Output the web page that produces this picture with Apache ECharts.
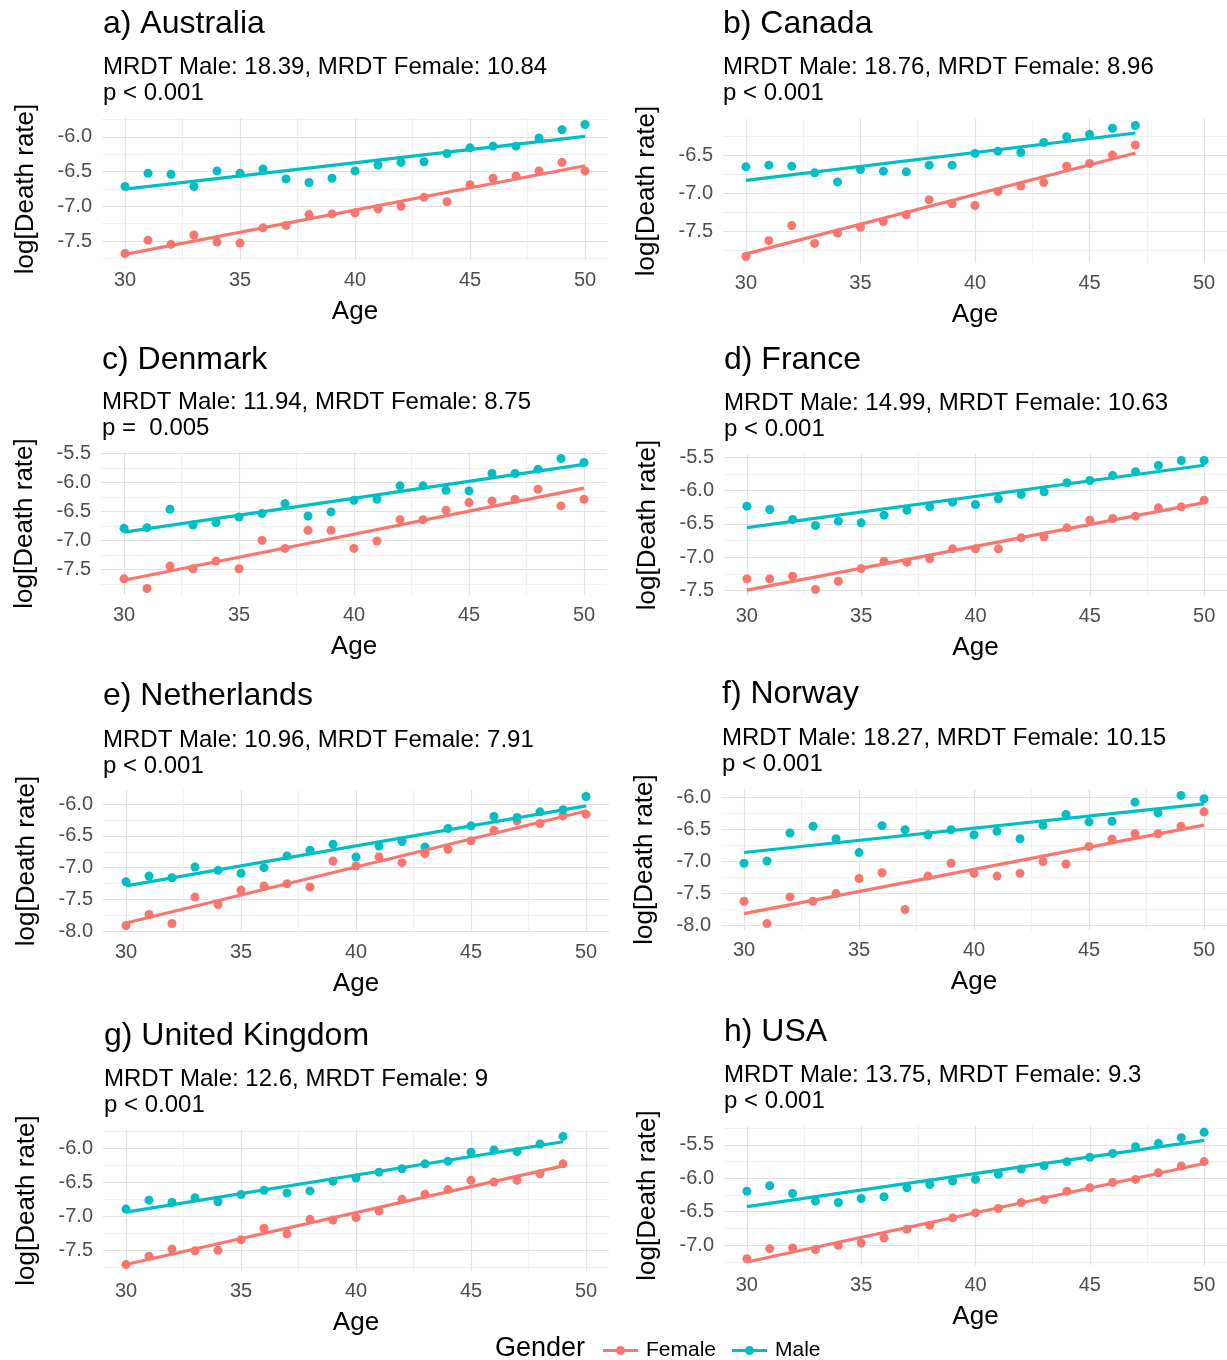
<!DOCTYPE html>
<html><head><meta charset="utf-8">
<script src="https://cdn.jsdelivr.net/npm/echarts@6/dist/echarts.min.js"></script>
<style>html,body{margin:0;padding:0;background:#fff}#c{width:1227px;height:1360px}</style>
</head><body><div id="c"></div>
<script>
// ---------------- DATA ----------------
const panelTitles = ['a) Australia','b) Canada','c) Denmark','d) France','e) Netherlands','f) Norway','g) United Kingdom','h) USA'];
const mrdtMale   = ['18.39','18.76','11.94','14.99','10.96','18.27','12.6','13.75'];
const mrdtFemale = ['10.84','8.96','8.75','10.63','7.91','10.15','9','9.3'];
const pLabels    = ['p < 0.001','p < 0.001','p =  0.005','p < 0.001','p < 0.001','p < 0.001','p < 0.001','p < 0.001'];

const ages30to50 = [30,31,32,33,34,35,36,37,38,39,40,41,42,43,44,45,46,47,48,49,50];
const ages30to47 = [30,31,32,33,34,35,36,37,38,39,40,41,42,43,44,45,46,47];
const ages30to49 = [30,31,32,33,34,35,36,37,38,39,40,41,42,43,44,45,46,47,48,49];

const maleAU   = [-6.714,-6.524,-6.538,-6.714,-6.49,-6.524,-6.462,-6.605,-6.657,-6.595,-6.49,-6.405,-6.367,-6.357,-6.238,-6.157,-6.133,-6.133,-6.014,-5.895,-5.82];
const femaleAU = [-7.681,-7.49,-7.548,-7.414,-7.514,-7.53,-7.31,-7.276,-7.119,-7.11,-7.095,-7.038,-7.0,-6.871,-6.935,-6.69,-6.595,-6.562,-6.49,-6.367,-6.49];
const maleCA   = [-6.654,-6.632,-6.645,-6.733,-6.852,-6.689,-6.711,-6.72,-6.632,-6.632,-6.478,-6.448,-6.465,-6.335,-6.258,-6.227,-6.148,-6.112];
const femaleCA = [-7.83,-7.623,-7.425,-7.659,-7.522,-7.447,-7.372,-7.284,-7.086,-7.139,-7.161,-6.976,-6.905,-6.861,-6.645,-6.61,-6.5,-6.368];
const maleDK   = [-6.792,-6.78,-6.463,-6.734,-6.694,-6.596,-6.538,-6.365,-6.579,-6.509,-6.307,-6.29,-6.059,-6.059,-6.134,-6.146,-5.846,-5.846,-5.771,-5.587,-5.656];
const femaleDK = [-7.663,-7.83,-7.443,-7.49,-7.357,-7.49,-7.0,-7.138,-6.826,-6.826,-7.138,-7.011,-6.642,-6.642,-6.48,-6.348,-6.319,-6.29,-6.117,-6.405,-6.29];
const maleFR   = [-6.235,-6.285,-6.435,-6.525,-6.46,-6.485,-6.37,-6.295,-6.245,-6.175,-6.21,-6.125,-6.06,-6.02,-5.885,-5.85,-5.775,-5.72,-5.625,-5.55,-5.55];
const femaleFR = [-7.325,-7.325,-7.285,-7.485,-7.36,-7.17,-7.06,-7.075,-7.025,-6.875,-6.875,-6.875,-6.71,-6.695,-6.56,-6.445,-6.42,-6.385,-6.26,-6.245,-6.145];
const maleNL   = [-7.221,-7.132,-7.158,-6.989,-7.042,-7.089,-7.0,-6.816,-6.726,-6.632,-6.832,-6.658,-6.589,-6.674,-6.384,-6.342,-6.195,-6.211,-6.121,-6.089,-5.879];
const femaleNL = [-7.911,-7.737,-7.879,-7.463,-7.579,-7.353,-7.289,-7.253,-7.305,-6.895,-6.974,-6.832,-6.921,-6.779,-6.711,-6.579,-6.411,-6.263,-6.305,-6.184,-6.158];
const maleNO   = [-7.031,-6.995,-6.56,-6.455,-6.649,-6.864,-6.445,-6.508,-6.586,-6.508,-6.586,-6.534,-6.649,-6.44,-6.272,-6.387,-6.377,-6.079,-6.246,-5.974,-6.026];
const femaleNO = [-7.623,-7.97,-7.555,-7.623,-7.503,-7.267,-7.178,-7.75,-7.23,-7.031,-7.188,-7.23,-7.188,-7.005,-7.042,-6.77,-6.654,-6.571,-6.571,-6.455,-6.23];
const maleUK   = [-6.893,-6.762,-6.796,-6.728,-6.786,-6.68,-6.617,-6.655,-6.626,-6.485,-6.437,-6.35,-6.301,-6.228,-6.189,-6.058,-6.024,-6.049,-5.937,-5.825];
const femaleUK = [-7.709,-7.587,-7.481,-7.505,-7.5,-7.345,-7.175,-7.257,-7.044,-7.053,-7.019,-6.922,-6.748,-6.675,-6.607,-6.471,-6.495,-6.471,-6.374,-6.228];
const maleUS   = [-6.192,-6.112,-6.227,-6.342,-6.362,-6.302,-6.277,-6.142,-6.092,-6.041,-6.016,-5.941,-5.861,-5.81,-5.752,-5.685,-5.627,-5.526,-5.476,-5.391,-5.311];
const femaleUS = [-7.204,-7.054,-7.043,-7.069,-7.004,-6.969,-6.894,-6.763,-6.703,-6.593,-6.518,-6.452,-6.362,-6.317,-6.192,-6.142,-6.061,-6.016,-5.916,-5.816,-5.75];

const xTickLabels = [30,35,40,45,50];
const yTicksAU = [-6.0,-6.5,-7.0,-7.5];
const yTicksCA = [-6.5,-7.0,-7.5];
const yTicksDK = [-5.5,-6.0,-6.5,-7.0,-7.5];
const yTicksFR = [-5.5,-6.0,-6.5,-7.0,-7.5];
const yTicksNL = [-6.0,-6.5,-7.0,-7.5,-8.0];
const yTicksNO = [-6.0,-6.5,-7.0,-7.5,-8.0];
const yTicksUK = [-6.0,-6.5,-7.0,-7.5];
const yTicksUS = [-5.5,-6.0,-6.5,-7.0];

const panelAges   = [ages30to50, ages30to47, ages30to50, ages30to50, ages30to50, ages30to50, ages30to49, ages30to50];
const panelMale   = [maleAU, maleCA, maleDK, maleFR, maleNL, maleNO, maleUK, maleUS];
const panelFemale = [femaleAU, femaleCA, femaleDK, femaleFR, femaleNL, femaleNO, femaleUK, femaleUS];
const panelYTicks = [yTicksAU, yTicksCA, yTicksDK, yTicksFR, yTicksNL, yTicksNO, yTicksUK, yTicksUS];

// ---------------- LAYOUT ----------------
const layout = [
  {l:102, r:608, t:118, b:260, titleY:8,    subY:54,   tl:103},
  {l:723, r:1227,t:119, b:263, titleY:8,    subY:54,   tl:723},
  {l:101, r:607, t:452, b:595, titleY:344,  subY:389,  tl:102},
  {l:724, r:1227,t:454, b:596, titleY:344,  subY:390,  tl:724},
  {l:103, r:609, t:790, b:932, titleY:680,  subY:727,  tl:103},
  {l:721, r:1227,t:789, b:930, titleY:678,  subY:725,  tl:722},
  {l:103, r:609, t:1130,b:1271,titleY:1020, subY:1066, tl:104},
  {l:724, r:1227,t:1126,b:1265,titleY:1016, subY:1062, tl:724}
];
const FEMALE_C = '#F8766D', MALE_C = '#00BFC4';
const FONT = '"Liberation Sans", Arial, Helvetica, sans-serif';
const MAJOR_C = '#e2e2e2', MINOR_C = '#f0f0f0';

function fit(xs, ys){
  const n = xs.length; let sx=0, sy=0, sxx=0, sxy=0;
  for (let i=0;i<n;i++){ sx+=xs[i]; sy+=ys[i]; sxx+=xs[i]*xs[i]; sxy+=xs[i]*ys[i]; }
  const b = (n*sxy - sx*sy)/(n*sxx - sx*sx); const a = (sy - b*sx)/n;
  return [[xs[0], a + b*xs[0]], [xs[n-1], a + b*xs[n-1]]];
}
function gridTicks(min, max, step, majorStep){
  const vals = [], cols = [];
  const start = Math.ceil(min/step - 1e-9), end = Math.floor(max/step + 1e-9);
  for (let k=start;k<=end;k++){
    const v = +(k*step).toFixed(4);
    vals.push(v);
    cols.push(Math.abs(v/majorStep - Math.round(v/majorStep)) < 1e-6 ? MAJOR_C : MINOR_C);
  }
  return {vals, cols};
}

const titles = [], grids = [], xAxes = [], yAxes = [], series = [];
for (let i=0;i<8;i++){
  const L = layout[i];
  const ages = panelAges[i], m = panelMale[i], f = panelFemale[i];
  const all = m.concat(f);
  const dmin = Math.min(...all), dmax = Math.max(...all);
  const pad = (dmax - dmin)*0.05;
  const ymin = dmin - pad, ymax = dmax + pad;
  const xmin = 29, xmax = 51;

  titles.push({ text: panelTitles[i], left: L.tl, top: L.titleY, padding: 0,
    textStyle: {fontFamily: FONT, fontSize: 32, fontWeight: 'normal', color: '#000'} });
  titles.push({ text: 'MRDT Male: ' + mrdtMale[i] + ', MRDT Female: ' + mrdtFemale[i] + '\n' + pLabels[i],
    left: L.tl, top: L.subY, padding: 0,
    textStyle: {fontFamily: FONT, fontSize: 24, fontWeight: 'normal', color: '#000', lineHeight: 26} });

  grids.push({ left: L.l, width: L.r - L.l, top: L.t, height: L.b - L.t, containLabel: false });

  const xt = gridTicks(xmin, xmax, 2.5, 5);
  xAxes.push({ type: 'value', gridIndex: i, min: xmin, max: xmax,
    name: 'Age', nameLocation: 'middle', nameGap: 39,
    nameTextStyle: {fontFamily: FONT, fontSize: 26, color: '#000'},
    axisLine: {show: false}, axisTick: {show: false, customValues: xt.vals},
    axisLabel: {customValues: xTickLabels, margin: 10, fontFamily: FONT, fontSize: 20, color: '#4d4d4d'},
    splitLine: {show: true, lineStyle: {color: xt.cols, width: 1.2}} });

  const yt = gridTicks(ymin, ymax, 0.25, 0.5);
  yAxes.push({ type: 'value', gridIndex: i, min: ymin, max: ymax,
    name: 'log[Death rate]', nameLocation: 'middle', nameGap: 63, nameRotate: 90,
    nameTextStyle: {fontFamily: FONT, fontSize: 26, color: '#000'},
    axisLine: {show: false}, axisTick: {show: false, customValues: yt.vals},
    axisLabel: {customValues: panelYTicks[i], margin: 10, fontFamily: FONT, fontSize: 20, color: '#4d4d4d',
      formatter: v => (+v).toFixed(1)},
    splitLine: {show: true, lineStyle: {color: yt.cols, width: 1.2}} });

  const groups = [['Female', f, FEMALE_C], ['Male', m, MALE_C]];
  groups.forEach(([name, ys, col]) => {
    series.push({ type: 'scatter', name: name, xAxisIndex: i, yAxisIndex: i,
      data: ages.map((a, k) => [a, ys[k]]), symbolSize: 9, itemStyle: {color: col, opacity: 1},
      z: 2, silent: true });
  });
  groups.forEach(([name, ys, col]) => {
    series.push({ type: 'line', name: name, xAxisIndex: i, yAxisIndex: i,
      data: fit(ages, ys), showSymbol: false, symbol: 'none', lineStyle: {color: col, width: 3.2},
      itemStyle: {color: col}, z: 3, silent: true });
  });
}

const legendIcon = 'path://M0,3.6 L35,3.6 L35,6.4 L0,6.4 Z M13,5 A4.5,4.5 0 1 1 22,5 A4.5,4.5 0 1 1 13,5 Z';
const chart = echarts.init(document.getElementById('c'), null, {renderer: 'canvas'});
chart.setOption({
  animation: false,
  backgroundColor: '#fff',
  title: titles,
  grid: grids, xAxis: xAxes, yAxis: yAxes, series: series,
  legend: { data: [{name:'Female', icon: legendIcon, itemStyle:{color: FEMALE_C}}, {name:'Male', icon: legendIcon, itemStyle:{color: MALE_C}}],
    left: 603, top: 1340, itemWidth: 35, itemHeight: 10, itemGap: 16, padding: 0,
    textStyle: {fontFamily: FONT, fontSize: 21, color: '#000', padding: [0,0,0,3]} },
  graphic: [{ type: 'text', left: 495, top: 1335, style: {text: 'Gender', fontFamily: FONT, fontSize: 27, fill: '#000'} }]
});
</script></body></html>
